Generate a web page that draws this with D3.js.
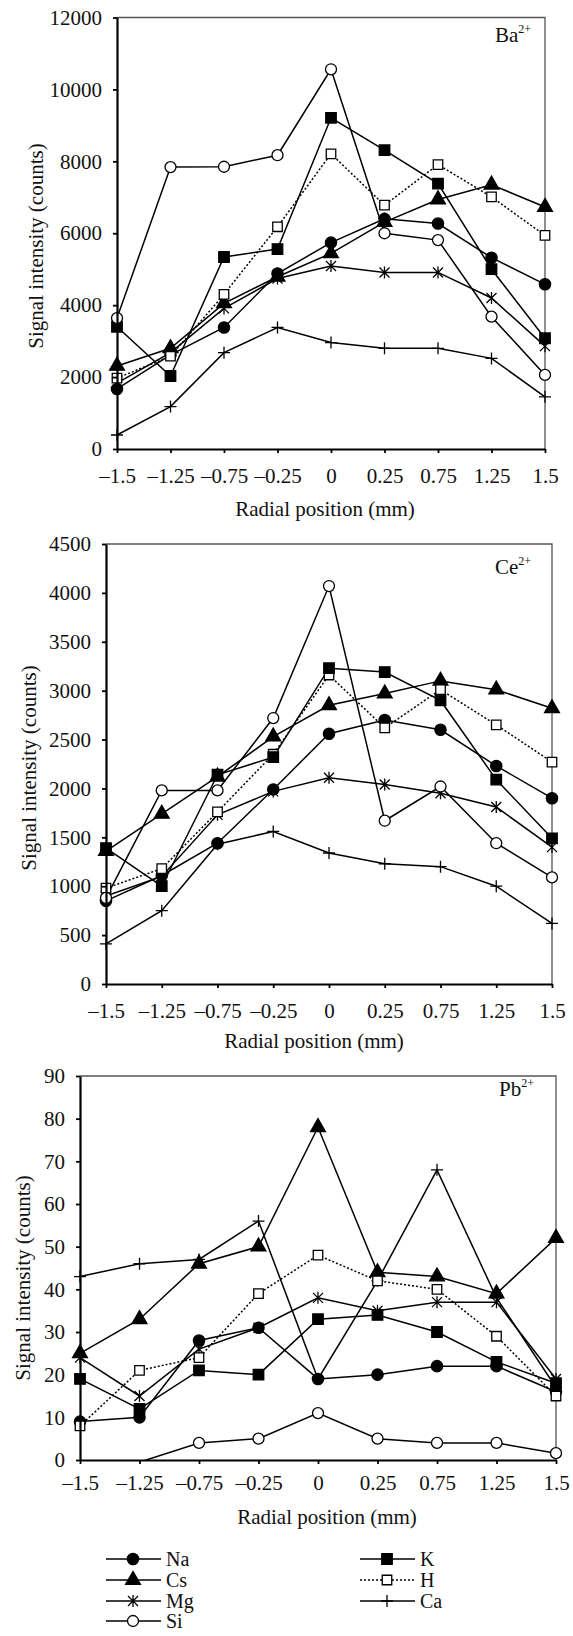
<!DOCTYPE html>
<html>
<head>
<meta charset="utf-8">
<script src="https://cdn.jsdelivr.net/npm/d3@7"></script>
<style>
  body { margin: 0; background: #fff; }
  svg { display: block; }
  text { font-family: "Liberation Serif", "Times New Roman", serif; fill: #111; }
</style>
</head>
<body>
<div id="viz"></div>
<script>
// positions radiales (categories, espacement egal)
const positions = ["-1.5", "-1.25", "-0.75", "-0.25", "0", "0.25", "0.75", "1.25", "1.5"];
const positionLabels = ["–1.5", "–1.25", "–0.75", "–0.25", "0", "0.25", "0.75", "1.25", "1.5"];
const seriesNames = ["Na", "K", "Cs", "H", "Mg", "Ca", "Si"];

// Ba2+
const baNa = [1670, 2620, 3380, 4880, 5740, 6400, 6270, 5320, 4580];
const baK  = [3400, 2030, 5340, 5560, 9210, 8310, 7380, 5000, 3080];
const baCs = [2310, 2800, 4050, 4790, 5440, 6310, 6940, 7350, 6730];
const baH  = [1970, 2580, 4300, 6180, 8210, 6780, 7910, 7010, 5940];
const baMg = [1830, 2680, 3910, 4740, 5090, 4910, 4910, 4200, 2860];
const baCa = [390, 1180, 2680, 3380, 2960, 2800, 2800, 2520, 1450];
const baSi = [3640, 7840, 7850, 8170, 10560, 6000, 5810, 3680, 2060];
const baTicks = [0, 2000, 4000, 6000, 8000, 10000, 12000];

// Ce2+
const ceNa = [850, 1110, 1440, 1990, 2560, 2700, 2600, 2230, 1900];
const ceK  = [1390, 1000, 2140, 2320, 3230, 3190, 2900, 2090, 1490];
const ceCs = [1360, 1740, 2120, 2530, 2850, 2970, 3100, 3010, 2820];
const ceH  = [980, 1180, 1760, 2350, 3160, 2620, 3010, 2650, 2270];
const ceMg = [900, 1100, 1730, 1970, 2110, 2040, 1950, 1810, 1400];
const ceCa = [410, 750, 1430, 1560, 1340, 1230, 1200, 1000, 620];
const ceSi = [880, 1980, 1980, 2720, 4070, 1670, 2020, 1440, 1090];
const ceTicks = [0, 500, 1000, 1500, 2000, 2500, 3000, 3500, 4000, 4500];

// Pb2+
const pbNa = [9, 10, 28, 31, 19, 20, 22, 22, 16];
const pbK  = [19, 12, 21, 20, 33, 34, 30, 23, 18];
const pbCs = [25, 33, 46, 50, 78, 44, 43, 39, 52];
const pbH  = [8, 21, 24, 39, 48, 42, 40, 29, 15];
const pbMg = [24, 15, 26, 31, 38, 35, 37, 37, 19];
const pbCa = [43, 46, 47, 56, 19, 42, 68, 38, 17];
const pbSi = [-1, -0.5, 4, 5, 11, 5, 4, 4, 1.6];
const pbTicks = [0, 10, 20, 30, 40, 50, 60, 70, 80, 90];

/////////////////////////////////////////////////////////

const W = 573, H = 1636;
const svg = d3.select("#viz").append("svg")
  .attr("width", W).attr("height", H);
svg.append("rect").attr("width", W).attr("height", H).attr("fill", "#fff");

// marqueurs
const sym = d3.symbol();
const markers = {
  Na: { path: sym.type(d3.symbolCircle).size(100)(), fill: "#000" },
  K:  { path: sym.type(d3.symbolSquare).size(110)(), fill: "#000" },
  Cs: { path: sym.type(d3.symbolTriangle).size(95)(), fill: "#000" },
  H:  { path: sym.type(d3.symbolSquare).size(90)(), fill: "#fff", dash: "2,2" },
  Mg: { path: "M-5,-5L5,5M-5,5L5,-5M0,-6V6", fill: "none" },
  Ca: { path: "M-6,0H6M0,-6V6", fill: "none" },
  Si: { path: sym.type(d3.symbolCircle).size(95)(), fill: "#fff" }
};
const drawOrder = ["Ca", "Mg", "Na", "Cs", "H", "K", "Si"];

function drawPanel(p, idx) {
  const x = d3.scalePoint().domain(positions).range([p.left, p.right]);
  const y = d3.scaleLinear().domain([0, p.ticks[p.ticks.length - 1]]).range([p.bottom, p.top]);

  const g = svg.append("g");

  // cadre haut / droite
  g.append("path")
    .attr("d", `M${p.left},${p.top}H${p.right}V${p.bottom}`)
    .attr("fill", "none").attr("stroke", "#555").attr("stroke-width", 1.3);

  const clipId = "clip" + idx;
  svg.append("clipPath").attr("id", clipId)
    .append("rect").attr("x", p.left - 10).attr("y", p.top - 10)
    .attr("width", p.right - p.left + 20).attr("height", p.bottom - p.top + 10);

  const line = d3.line().x((d, i) => x(positions[i])).y(d => y(d));
  const plot = g.append("g").attr("clip-path", `url(#${clipId})`);

  drawOrder.forEach(name => {
    plot.append("path")
      .attr("d", line(p.data[name]))
      .attr("fill", "none").attr("stroke", "#000").attr("stroke-width", 1.5)
      .attr("stroke-dasharray", markers[name].dash || null);
  });
  drawOrder.forEach(name => {
    const pts = p.data[name].map((v, i) => ({ v, pos: positions[i] })).filter(d => d.v >= 0);
    plot.selectAll(null)
      .data(pts)
      .join("path")
      .attr("transform", d => `translate(${x(d.pos)},${y(d.v)})`)
      .attr("d", markers[name].path)
      .attr("fill", markers[name].fill)
      .attr("stroke", "#000").attr("stroke-width", 1.3);
  });

  // axes
  const yAxis = g.append("g").attr("transform", `translate(${p.left},0)`)
    .call(d3.axisLeft(y).tickValues(p.ticks).tickFormat(d3.format("d"))
      .tickSize(4).tickSizeOuter(0).tickPadding(11));
  const xAxis = g.append("g").attr("transform", `translate(0,${p.bottom})`)
    .call(d3.axisBottom(x).tickFormat((d, i) => positionLabels[i])
      .tickSize(4).tickSizeOuter(0).tickPadding(p.xPad));
  [yAxis, xAxis].forEach(a => {
    a.select(".domain").attr("stroke", "#000").attr("stroke-width", 2.2);
    a.selectAll(".tick line").attr("stroke", "#000").attr("stroke-width", 1.8);
    a.selectAll("text").attr("font-size", 21).attr("fill", "#111")
      .attr("font-family", "Liberation Serif");
  });

  // titres
  g.append("text")
    .attr("transform", `translate(${p.yTitleX},${p.yTitleY}) rotate(-90)`)
    .attr("text-anchor", "middle").attr("dominant-baseline", "central")
    .attr("font-size", 21).text("Signal intensity (counts)");
  g.append("text")
    .attr("x", p.xTitleX).attr("y", p.xTitleY)
    .attr("text-anchor", "middle").attr("font-size", 21)
    .text("Radial position (mm)");
  const tag = g.append("text").attr("x", p.tagX).attr("y", p.tagY).attr("font-size", 21);
  tag.append("tspan").text(p.ion);
  tag.append("tspan").attr("font-size", 12).attr("dy", -9).text("2+");
}

const panels = [
  { ion: "Ba", ticks: baTicks, left: 117, right: 545, top: 17.5, bottom: 449, xPad: 15,
    yTitleX: 36, yTitleY: 246, xTitleX: 325, xTitleY: 516, tagX: 495, tagY: 42,
    data: { Na: baNa, K: baK, Cs: baCs, H: baH, Mg: baMg, Ca: baCa, Si: baSi } },
  { ion: "Ce", ticks: ceTicks, left: 106, right: 552, top: 544, bottom: 984, xPad: 15,
    yTitleX: 29, yTitleY: 768, xTitleX: 314, xTitleY: 1048, tagX: 495, tagY: 574,
    data: { Na: ceNa, K: ceK, Cs: ceCs, H: ceH, Mg: ceMg, Ca: ceCa, Si: ceSi } },
  { ion: "Pb", ticks: pbTicks, left: 80, right: 556, top: 1076, bottom: 1460, xPad: 11,
    yTitleX: 23, yTitleY: 1278, xTitleX: 327, xTitleY: 1524, tagX: 499, tagY: 1096,
    data: { Na: pbNa, K: pbK, Cs: pbCs, H: pbH, Mg: pbMg, Ca: pbCa, Si: pbSi } }
];
panels.forEach(drawPanel);

// legende
const legendCols = [106, 360];
const legendRows = [1559, 1580, 1601, 1621];
const legendItems = ["Na", "K", "Cs", "H", "Mg", "Ca", "Si"];
const legend = svg.append("g");
legendItems.forEach((name, i) => {
  const lx = legendCols[i % 2], ly = legendRows[Math.floor(i / 2)];
  legend.append("line")
    .attr("x1", lx).attr("x2", lx + 55).attr("y1", ly).attr("y2", ly)
    .attr("stroke", "#000").attr("stroke-width", 1.5)
    .attr("stroke-dasharray", markers[name].dash || null);
  legend.append("path")
    .attr("transform", `translate(${lx + 27},${ly})`)
    .attr("d", markers[name].path)
    .attr("fill", markers[name].fill)
    .attr("stroke", "#000").attr("stroke-width", 1.3);
  legend.append("text")
    .attr("x", lx + 60).attr("y", ly + 7)
    .attr("font-size", 20).text(name);
});
</script>
</body>
</html>
